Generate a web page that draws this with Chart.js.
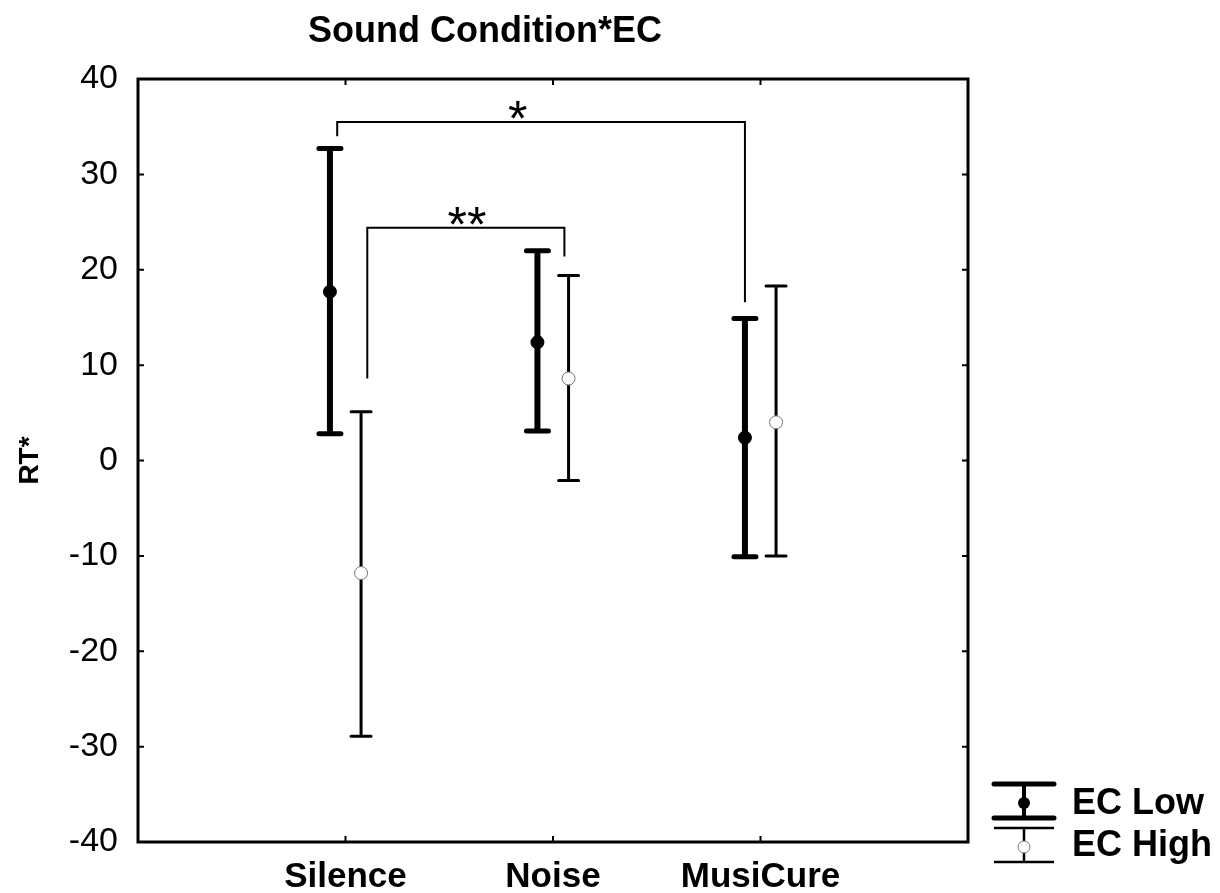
<!DOCTYPE html>
<html>
<head>
<meta charset="utf-8">
<script src="https://cdn.jsdelivr.net/npm/chart.js@4.4.1/dist/chart.umd.min.js"></script>
<style>
  html, body { margin: 0; padding: 0; background: #fff; }
  #wrap { width: 1220px; height: 893px; }
</style>
</head>
<body>
<div id="wrap"><canvas id="myChart" width="1220" height="893"></canvas></div>
<script>
"use strict";
// values
const categories = ['Silence', 'Noise', 'MusiCure'];
const lowMean  = [17.7, 12.4, 2.4];
const lowUpper = [32.7, 22.0, 14.9];
const lowLower = [2.8, 3.1, -10.1];
const highMean  = [-11.8, 8.6, 4.0];
const highUpper = [5.1, 19.4, 18.3];
const highLower = [-28.9, -2.1, -10.0];
const yTicks = [-40, -30, -20, -10, 0, 10, 20, 30, 40];

// significance brackets: [x from, x to, top y, left leg end, right leg end, label, label x]
const brackets = [
    [0.96, 2.925, 35.5, 34.0, 16.6, '*', 1.83],
    [1.105, 2.055, 24.4, 8.6, 21.4, '**', 1.585]
];

const OFFSET = 0.075;
const FONT = '"Liberation Sans", Arial, sans-serif';

const lowPoints = categories.map((c, i) => ({ x: i + 1 - OFFSET, y: lowMean[i] }));
const highPoints = categories.map((c, i) => ({ x: i + 1 + OFFSET, y: highMean[i] }));

const errorBars = {
    id: 'errorBars',
    beforeDatasetsDraw(chart) {
        const { ctx, scales: { x, y } } = chart;
        const draw = (xv, lo, hi, lw, capW, capLw) => {
            const px = x.getPixelForValue(xv);
            const top = y.getPixelForValue(hi);
            const bot = y.getPixelForValue(lo);
            ctx.save();
            ctx.strokeStyle = '#000';
            ctx.lineCap = 'butt';
            ctx.lineWidth = lw;
            ctx.beginPath();
            ctx.moveTo(px, top);
            ctx.lineTo(px, bot);
            ctx.stroke();
            ctx.lineWidth = capLw;
            ctx.lineCap = 'round';
            ctx.beginPath();
            ctx.moveTo(px - capW / 2, top);
            ctx.lineTo(px + capW / 2, top);
            ctx.moveTo(px - capW / 2, bot);
            ctx.lineTo(px + capW / 2, bot);
            ctx.stroke();
            ctx.restore();
        };
        categories.forEach((c, i) => {
            draw(i + 1 - OFFSET, lowLower[i], lowUpper[i], 6, 22, 5);
            draw(i + 1 + OFFSET, highLower[i], highUpper[i], 3, 20, 3);
        });
    }
};

const frameAndNotes = {
    id: 'frameAndNotes',
    afterDraw(chart) {
        const { ctx, chartArea: a, scales: { x, y } } = chart;
        ctx.save();
        // frame
        ctx.strokeStyle = '#000';
        ctx.lineWidth = 3;
        ctx.strokeRect(a.left, a.top, a.right - a.left, a.bottom - a.top);
        // inward ticks
        ctx.lineWidth = 2;
        ctx.beginPath();
        yTicks.forEach(v => {
            const py = y.getPixelForValue(v);
            ctx.moveTo(a.left, py); ctx.lineTo(a.left + 6, py);
            ctx.moveTo(a.right, py); ctx.lineTo(a.right - 6, py);
        });
        categories.forEach((c, i) => {
            const px = x.getPixelForValue(i + 1);
            ctx.moveTo(px, a.top); ctx.lineTo(px, a.top + 6);
            ctx.moveTo(px, a.bottom); ctx.lineTo(px, a.bottom - 6);
        });
        ctx.stroke();

        // brackets
        ctx.lineWidth = 2;
        ctx.fillStyle = '#000';
        ctx.font = '50px ' + FONT;
        ctx.textAlign = 'center';
        ctx.textBaseline = 'alphabetic';
        brackets.forEach(b => {
            const x1 = x.getPixelForValue(b[0]);
            const x2 = x.getPixelForValue(b[1]);
            const yt = y.getPixelForValue(b[2]);
            ctx.beginPath();
            ctx.moveTo(x1, y.getPixelForValue(b[3]));
            ctx.lineTo(x1, yt);
            ctx.lineTo(x2, yt);
            ctx.lineTo(x2, y.getPixelForValue(b[4]));
            ctx.stroke();
            ctx.fillText(b[5], x.getPixelForValue(b[6]), yt + 14);
        });

        // title
        ctx.font = 'bold 36px ' + FONT;
        ctx.fillText('Sound Condition*EC', 485, 42);

        // legend
        const lx = 1024, capW = 60;
        ctx.lineCap = 'round';
        ctx.lineWidth = 5;
        ctx.beginPath();
        ctx.moveTo(lx - capW / 2, 784); ctx.lineTo(lx + capW / 2, 784);
        ctx.moveTo(lx - capW / 2, 818); ctx.lineTo(lx + capW / 2, 818);
        ctx.stroke();
        ctx.lineCap = 'butt';
        ctx.lineWidth = 4;
        ctx.beginPath();
        ctx.moveTo(lx, 784); ctx.lineTo(lx, 818);
        ctx.stroke();
        ctx.beginPath();
        ctx.arc(lx, 803, 6, 0, Math.PI * 2);
        ctx.fill();
        ctx.lineWidth = 2.5;
        ctx.beginPath();
        ctx.moveTo(lx - capW / 2, 828); ctx.lineTo(lx + capW / 2, 828);
        ctx.moveTo(lx - capW / 2, 862); ctx.lineTo(lx + capW / 2, 862);
        ctx.moveTo(lx, 828); ctx.lineTo(lx, 862);
        ctx.stroke();
        ctx.fillStyle = '#fff';
        ctx.strokeStyle = '#777';
        ctx.lineWidth = 1;
        ctx.beginPath();
        ctx.arc(lx, 847, 6, 0, Math.PI * 2);
        ctx.fill();
        ctx.stroke();
        ctx.fillStyle = '#000';
        ctx.font = 'bold 36px ' + FONT;
        ctx.textAlign = 'left';
        ctx.textBaseline = 'middle';
        ctx.fillText('EC Low', 1072, 804);
        ctx.fillText('EC High', 1072, 846);
        ctx.restore();
    }
};

const canvas = document.getElementById('myChart');
const chartConfig = {
    type: 'line',
    data: {
        datasets: [{
                label: 'EC Low',
                data: lowPoints,
                showLine: false,
                pointRadius: 6.5,
                pointBackgroundColor: '#000',
                pointBorderColor: '#000',
                pointBorderWidth: 1
            }, {
                label: 'EC High',
                data: highPoints,
                showLine: false,
                pointRadius: 6.5,
                pointBackgroundColor: '#fff',
                pointBorderColor: '#777',
                pointBorderWidth: 1
            }]
    },
    options: {
        responsive: false,
        animation: false,
        layout: { padding: { top: 79, right: 252, left: 0, bottom: 0 } },
        plugins: { legend: { display: false }, tooltip: { enabled: false } },
        scales: {
            x: {
                type: 'linear',
                min: 0,
                max: 4,
                afterFit: s => { s.height = 51; },
                grid: { display: false, drawTicks: false },
                border: { display: false },
                ticks: {
                    stepSize: 1,
                    padding: 14,
                    color: '#000',
                    font: { family: FONT, size: 35, weight: 'bold' },
                    callback: v => categories[v - 1] || ''
                }
            },
            y: {
                min: -40,
                max: 40,
                afterFit: s => { s.width = 138; },
                grid: { display: false, drawTicks: false },
                border: { display: false },
                ticks: {
                    stepSize: 10,
                    padding: 20,
                    color: '#000',
                    font: { family: FONT, size: 34 }
                },
                title: {
                    display: true,
                    text: 'RT*',
                    color: '#000',
                    padding: { top: 13, bottom: 0 },
                    font: { family: FONT, size: 28, weight: 'bold' }
                }
            }
        }
    },
    plugins: [errorBars, frameAndNotes]
};
new Chart(canvas.getContext('2d'), chartConfig);
</script>
</body>
</html>
